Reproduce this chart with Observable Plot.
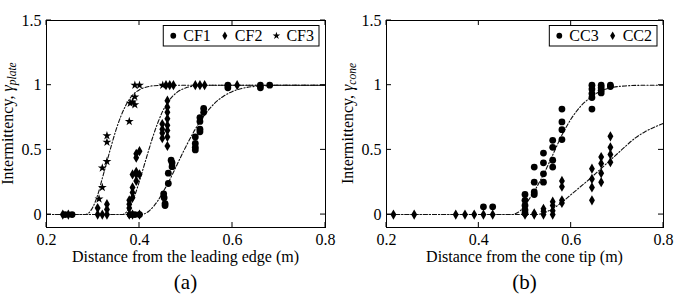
<!DOCTYPE html>
<html><head><meta charset="utf-8">
<script src="https://cdn.jsdelivr.net/npm/d3@7"></script>
<script src="https://cdn.jsdelivr.net/npm/@observablehq/plot@0.6"></script>
<style>
body{margin:0;background:#fff;}
#wrap{position:relative;width:674px;height:296px;overflow:hidden;background:#fff;}
#wrap svg{position:absolute;top:0;}
</style></head><body><div id="wrap"></div>
<script>
// ---- shared ticks ----
const xTicks = [0.2, 0.4, 0.6, 0.8];
const yTicks = [0, 0.5, 1, 1.5];

// ---- panel (a): flat plate ----
const cf1X = [0.24, 0.255, 0.38, 0.39, 0.40, 0.452, 0.453, 0.455, 0.455, 0.462, 0.462, 0.468, 0.47, 0.47, 0.52, 0.52, 0.52, 0.52, 0.53, 0.53, 0.53, 0.53, 0.538, 0.538, 0.59, 0.59, 0.66, 0.66, 0.68];
const cf1Y = [0, 0, 0, 0, 0, 0.16, 0.13, 0.085, 0.07, 0.24, 0.32, 0.42, 0.40, 0.37, 0.60, 0.55, 0.52, 0.50, 0.75, 0.72, 0.66, 0.64, 0.82, 0.79, 1.0, 0.98, 1.0, 0.98, 1.0];
const cf2X = [0.235, 0.247, 0.31, 0.32, 0.33, 0.31, 0.33, 0.33, 0.378, 0.378, 0.378, 0.378, 0.385, 0.385, 0.385, 0.385, 0.385, 0.393, 0.393, 0.393, 0.393, 0.393, 0.40, 0.40, 0.40, 0.449, 0.449, 0.449, 0.449, 0.46, 0.46, 0.46, 0.46, 0.46, 0.46, 0.46, 0.46, 0.457, 0.465, 0.473, 0.52, 0.53, 0.54, 0.61];
const cf2Y = [0, 0, 0, 0, 0, 0.05, 0.08, 0.04, 0, 0.05, 0.08, 0.11, 0, 0.13, 0.17, 0.21, 0.31, 0.26, 0.31, 0.33, 0.44, 0.47, 0, 0.31, 0.49, 0.70, 0.66, 0.63, 0.59, 0.88, 0.83, 0.79, 0.74, 0.69, 0.65, 0.60, 0.53, 1, 1, 1, 1, 1, 1, 1];
const cf3X = [0.313, 0.32, 0.32, 0.33, 0.33, 0.33, 0.378, 0.38, 0.385, 0.39, 0.39, 0.39, 0.40, 0.45];
const cf3Y = [0.12, 0.21, 0.36, 0.41, 0.56, 0.61, 0.72, 0.86, 0.87, 0.85, 0.91, 1, 1, 1];
// fitted curves
const fit3X = [0.20, 0.284, 0.29, 0.30, 0.31, 0.32, 0.33, 0.34, 0.35, 0.36, 0.37, 0.38, 0.39, 0.40, 0.42, 0.44, 0.47, 0.80];
const fit3Y = [0, 0, 0.01, 0.06, 0.15, 0.28, 0.41, 0.54, 0.66, 0.76, 0.84, 0.90, 0.94, 0.965, 0.99, 0.998, 1, 1];
const fit2X = [0.20, 0.362, 0.37, 0.38, 0.39, 0.40, 0.41, 0.42, 0.43, 0.44, 0.45, 0.46, 0.47, 0.48, 0.50, 0.52, 0.55, 0.80];
const fit2Y = [0, 0, 0.013, 0.065, 0.15, 0.26, 0.38, 0.50, 0.615, 0.715, 0.80, 0.862, 0.91, 0.943, 0.98, 0.994, 1, 1];
const fit1X = [0.20, 0.402, 0.41, 0.42, 0.43, 0.44, 0.45, 0.46, 0.47, 0.48, 0.49, 0.50, 0.52, 0.54, 0.56, 0.58, 0.60, 0.62, 0.65, 0.70, 0.75, 0.80];
const fit1Y = [0, 0, 0.005, 0.026, 0.062, 0.11, 0.17, 0.235, 0.305, 0.38, 0.455, 0.527, 0.66, 0.77, 0.855, 0.913, 0.952, 0.975, 0.991, 0.999, 1, 1];

// ---- panel (b): cone ----
const cc3X = [0.41, 0.43, 0.50, 0.50, 0.50, 0.50, 0.50, 0.52, 0.52, 0.52, 0.52, 0.54, 0.54, 0.54, 0.54, 0.56, 0.56, 0.56, 0.56, 0.58, 0.58, 0.58, 0.58, 0.645, 0.645, 0.645, 0.645, 0.645, 0.665, 0.665, 0.665, 0.665, 0.685, 0.685];
const cc3Y = [0.06, 0.06, 0.155, 0.11, 0.07, 0.035, 0.01, 0.367, 0.25, 0.175, 0.155, 0.475, 0.40, 0.315, 0.25, 0.574, 0.52, 0.42, 0.367, 0.815, 0.716, 0.656, 0.58, 1.0, 0.97, 0.935, 0.905, 0.815, 1.0, 0.98, 0.96, 0.94, 1.0, 0.99];
const cc2X = [0.215, 0.26, 0.35, 0.37, 0.39, 0.41, 0.43, 0.50, 0.50, 0.52, 0.52, 0.54, 0.54, 0.54, 0.56, 0.56, 0.56, 0.56, 0.58, 0.58, 0.58, 0.58, 0.645, 0.645, 0.645, 0.645, 0.665, 0.665, 0.665, 0.665, 0.685, 0.685, 0.685, 0.685];
const cc2Y = [0, 0, 0, 0, 0, 0, 0, 0, 0.02, 0, 0.01, 0, 0.025, 0.045, 0, 0.03, 0.07, 0.1, 0.26, 0.215, 0.11, 0.09, 0.355, 0.275, 0.21, 0.11, 0.445, 0.395, 0.32, 0.25, 0.605, 0.52, 0.465, 0.405];
const fitC3X = [0.20, 0.472, 0.48, 0.49, 0.50, 0.52, 0.54, 0.56, 0.58, 0.60, 0.62, 0.64, 0.66, 0.68, 0.70, 0.72, 0.75, 0.80];
const fitC3Y = [0, 0, 0.008, 0.03, 0.075, 0.18, 0.31, 0.46, 0.615, 0.74, 0.835, 0.9, 0.948, 0.975, 0.989, 0.995, 0.999, 1];
const fitC2X = [0.20, 0.525, 0.54, 0.56, 0.58, 0.60, 0.62, 0.64, 0.66, 0.68, 0.70, 0.72, 0.74, 0.76, 0.78, 0.80];
const fitC2Y = [0, 0, 0.012, 0.045, 0.095, 0.155, 0.215, 0.275, 0.34, 0.405, 0.47, 0.535, 0.595, 0.64, 0.675, 0.705];

const zip = (xs, ys) => xs.map((x, i) => ({x, y: ys[i]}));

const FONT = "'Liberation Serif', serif";
const FS = 16;
const W = 337, H = 296, MT = 20, MB = 69;
const SYM_R = {circle: 3.4, diamond: 3.1, star: 2.8};

function panel(container, left, {series, fits, sub, letter, xLabel, ml, mr, yLabelX}) {
  const marks = [
    Plot.axisX({ticks: xTicks, tickSize: 0, tickPadding: 6, tickFormat: d => String(d), label: null}),
    Plot.axisY({ticks: yTicks, tickSize: 0, tickPadding: 5, tickFormat: d => String(d), label: null}),
    ...fits.map(f => Plot.line(zip(f.x, f.y), {x: "x", y: "y", curve: "monotone-x", stroke: "#111", strokeWidth: 1.1, strokeDasharray: "4,2,1.2,2"})),
    ...series.map(s => Plot.dot(zip(s.x, s.y), {x: "x", y: "y", symbol: s.symbol, r: SYM_R[s.symbol], fill: "black", stroke: "none"})),
    Plot.frame({stroke: "black", strokeWidth: 1})
  ];
  const svgEl = Plot.plot({
    width: W, height: H, marginTop: MT, marginBottom: MB, marginLeft: ml, marginRight: mr,
    x: {domain: [0.2, 0.8]},
    y: {domain: [-0.1, 1.5]},
    style: {fontFamily: FONT, fontSize: FS + "px", background: "white", color: "black"},
    marks
  });
  svgEl.style.left = left + "px";
  container.appendChild(svgEl);
  const svg = d3.select(svgEl);
  const sx = svgEl.scale("x"), sy = svgEl.scale("y");
  const x0 = ml, x1 = W - mr, y0 = MT, y1 = H - MB;
  const g = svg.append("g").attr("stroke", "black").attr("stroke-width", 1);
  const T = 5;
  for (const t of xTicks) {
    const px = sx.apply(t);
    g.append("line").attr("x1", px).attr("x2", px).attr("y1", y1).attr("y2", y1 - T);
    g.append("line").attr("x1", px).attr("x2", px).attr("y1", y0).attr("y2", y0 + T);
  }
  for (const t of yTicks) {
    const py = sy.apply(t);
    g.append("line").attr("y1", py).attr("y2", py).attr("x1", x0).attr("x2", x0 + T);
    g.append("line").attr("y1", py).attr("y2", py).attr("x1", x1).attr("x2", x1 - T);
  }
  // y label
  const yl = svg.append("text").attr("transform", `translate(${yLabelX},${(y0 + y1) / 2}) rotate(-90)`)
    .attr("text-anchor", "middle").attr("font-family", FONT).attr("font-size", FS).attr("fill", "black");
  yl.append("tspan").text("Intermittency, ");
  yl.append("tspan").attr("font-style", "italic").text("γ");
  yl.append("tspan").attr("font-style", "italic").attr("font-size", 11.5).attr("dy", 3).text(sub);
  // x label
  svg.append("text").attr("x", (x0 + x1) / 2).attr("y", 262).attr("text-anchor", "middle")
    .attr("font-family", FONT).attr("font-size", FS).attr("fill", "black").text(xLabel);
  svg.append("text").attr("x", (x0 + x1) / 2).attr("y", 289).attr("text-anchor", "middle")
    .attr("font-family", FONT).attr("font-size", 21).attr("fill", "black").text(letter);
  // legend (measured, right-aligned inside the frame)
  const ly = 25.5, lh = 20.5;
  const lg = svg.append("g");
  const rect = lg.append("rect").attr("y", ly).attr("height", lh)
    .attr("fill", "white").attr("stroke", "black").attr("stroke-width", 1);
  let cx = 10;
  const items = [];
  for (const s of series) {
    const symType = {circle: d3.symbolCircle, diamond: d3.symbolDiamond, star: d3.symbolStar}[s.symbol];
    const r = SYM_R[s.symbol] * 0.85;
    const p = lg.append("path").attr("d", d3.symbol(symType, Math.PI * r * r)()).attr("fill", "black");
    const t = lg.append("text").attr("y", ly + 15).attr("font-family", FONT).attr("text-anchor", "start")
      .attr("font-size", FS).attr("fill", "black").text(s.name);
    items.push({p, t, cx});
    cx += 10 + t.node().getComputedTextLength() + 14;
  }
  const lw = cx - 14 + 5;
  const lx = x1 - 6 - lw;
  rect.attr("x", lx).attr("width", lw);
  for (const it of items) {
    it.p.attr("transform", `translate(${lx + it.cx},${ly + lh / 2})`);
    it.t.attr("x", lx + it.cx + 10);
  }
  return svgEl;
}

const wrap = document.getElementById("wrap");
panel(wrap, 0, {
  series: [
    {name: "CF1", symbol: "circle", x: cf1X, y: cf1Y},
    {name: "CF2", symbol: "diamond", x: cf2X, y: cf2Y},
    {name: "CF3", symbol: "star", x: cf3X, y: cf3Y}
  ],
  fits: [{x: fit1X, y: fit1Y}, {x: fit2X, y: fit2Y}, {x: fit3X, y: fit3Y}],
  sub: "plate", letter: "(a)", xLabel: "Distance from the leading edge (m)",
  ml: 46, mr: 12, yLabelX: 13
});
panel(wrap, 337, {
  series: [
    {name: "CC3", symbol: "circle", x: cc3X, y: cc3Y},
    {name: "CC2", symbol: "diamond", x: cc2X, y: cc2Y}
  ],
  fits: [{x: fitC3X, y: fitC3Y}, {x: fitC2X, y: fitC2Y}],
  sub: "cone", letter: "(b)", xLabel: "Distance from the cone tip (m)",
  ml: 49, mr: 11, yLabelX: 16
});
</script></body></html>
